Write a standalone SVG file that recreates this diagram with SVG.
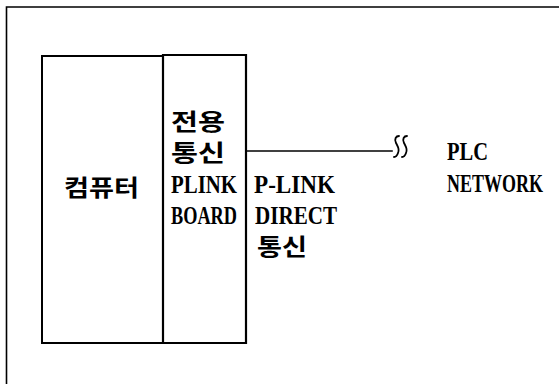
<svg xmlns="http://www.w3.org/2000/svg" width="559" height="384" viewBox="0 0 559 384">
<style>
.ln{stroke:#000;fill:none;stroke-linecap:square}
.sq{stroke:#000;fill:none;stroke-width:1.8;stroke-linecap:round}
.lat{font-family:"Liberation Serif","DejaVu Serif",serif;font-weight:bold;font-size:26px;fill:#000}
.kr{font-family:"Noto Sans CJK KR","Noto Sans CJK SC",sans-serif;font-weight:bold;font-size:23px;fill:#000}
</style>
<rect width="559" height="384" fill="#fff"/>
<g id="frame">
<path class="ln" d="M6.5,384 V7 H559" stroke-width="1.6"/>
</g>
<g id="computer">
<path class="ln" d="M163,56 H42 V343 H163" stroke-width="2"/>
<text class="kr" x="64" y="196" textLength="75" lengthAdjust="spacingAndGlyphs">컴퓨터</text>
</g>
<g id="plink-board">
<path class="ln" d="M163,55 V343 H246 V55 Z" stroke-width="2.2"/>
<text class="kr" x="171" y="130" textLength="54" lengthAdjust="spacingAndGlyphs">전용</text>
<text class="kr" x="171" y="161" textLength="54" lengthAdjust="spacingAndGlyphs">통신</text>
<text class="lat" transform="translate(171,193) scale(0.8,1)" textLength="82.5" lengthAdjust="spacingAndGlyphs">PLINK</text>
<text class="lat" transform="translate(171,224) scale(0.7,1)" textLength="94.3" lengthAdjust="spacingAndGlyphs">BOARD</text>
</g>
<g id="connectors">
<path class="ln" d="M246,151 H392" stroke-width="1.6"/>
<path class="sq" d="M399,136 c-3,0 -5,3 -3,7 c2,4 4,6 2,10 c-1,3 -3,4 -4,4"/>
<path class="sq" d="M407,136 c-3,0 -5,3 -3,7 c2,4 4,6 2,10 c-1,3 -3,4 -4,4"/>
</g>
<g id="direct-label">
<text class="lat" transform="translate(254,193) scale(0.89,1)" textLength="91" lengthAdjust="spacingAndGlyphs">P-LINK</text>
<text class="lat" transform="translate(255,224) scale(0.81,1)" textLength="101.2" lengthAdjust="spacingAndGlyphs">DIRECT</text>
<text class="kr" x="257" y="255" textLength="50" lengthAdjust="spacingAndGlyphs">통신</text>
</g>
<g id="plc-network">
<text class="lat" transform="translate(447,160) scale(0.79,1)" textLength="51.9" lengthAdjust="spacingAndGlyphs">PLC</text>
<text class="lat" transform="translate(447,192) scale(0.69,1)" textLength="139.1" lengthAdjust="spacingAndGlyphs">NETWORK</text>
</g>
</svg>
